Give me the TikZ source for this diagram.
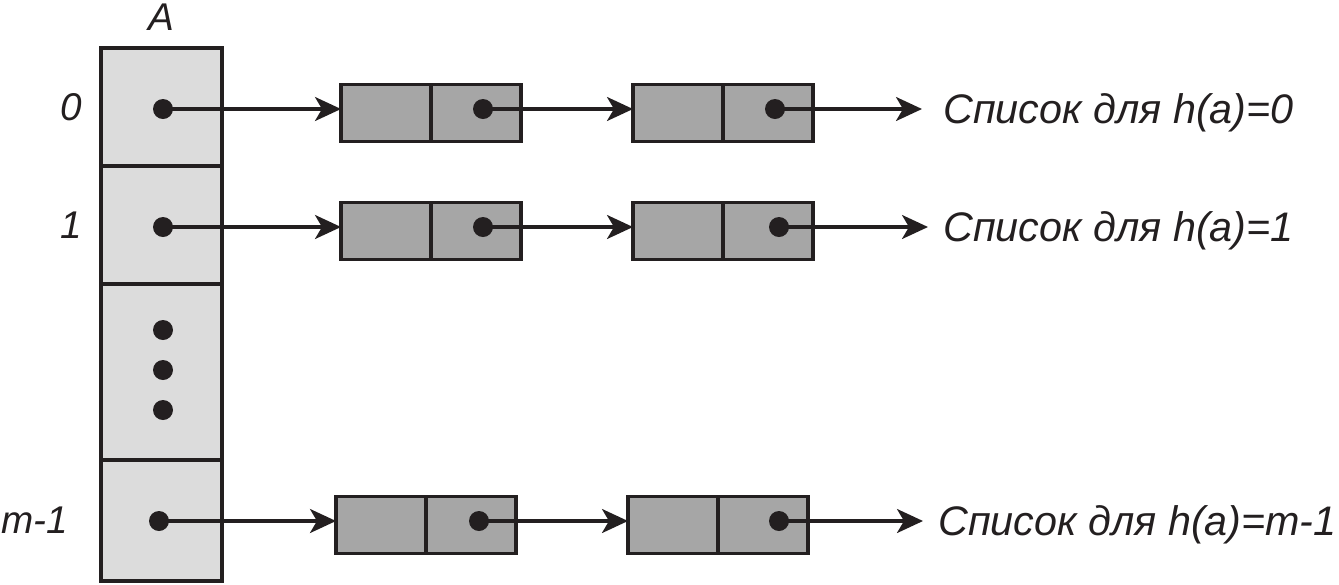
\documentclass[tikz,border=0pt]{standalone}
\usepackage{fontspec}
\setmainfont{Liberation Sans}
\usepackage{tikz}
\usetikzlibrary{positioning}
\usetikzlibrary{arrows.meta}
\usepackage{xcolor}
\definecolor{inkline}{RGB}{35,31,32}
\definecolor{arrayfill}{RGB}{220,220,220}
\definecolor{boxfill}{RGB}{166,166,166}

\begin{document}
\begin{tikzpicture}[node distance=1.8cm,
    cell/.style={draw=inkline, line width=2pt, fill=arrayfill, rectangle, outer sep=0pt, minimum width=2.42cm, minimum height=2.36cm},
    half/.style={draw=inkline, line width=2pt, fill=boxfill, rectangle, outer sep=0pt, minimum width=1.8cm, minimum height=1.14cm},
    ptrdot/.style={circle, fill=inkline, inner sep=0pt, minimum size=0.4cm},
    lbl/.style={font=\fontsize{22}{26}\selectfont\itshape, text=inkline, inner sep=0pt},
    listlbl/.style={lbl, font=\fontsize{23.5}{28}\selectfont\itshape, anchor=base west},
    ptrarrow/.style={draw=inkline, line width=1.8pt, -{Stealth[length=0.52cm, width=0.48cm, inset=0.14cm]}}]
    \useasboundingbox (0,0) rectangle (26.78,-11.68);

    % Array A
    \node (c0) [cell] at (3.23,-2.14) {};
    \node (c1) [cell, below of=c0, node distance=2.36cm] {};
    \node (cdots) [cell, below of=c1, node distance=2.94cm, minimum height=3.52cm] {};
    \node (cm) [cell, below of=cdots, node distance=2.97cm, minimum height=2.42cm] {};

    % Labels of the array
    \node (lA) [lbl, above of=c0] {A};
    \node (l0) [lbl, left of=c0] {0};
    \node (l1) [lbl, left of=c1] {1};
    \node (lm) [lbl, left of=cm, node distance=2.53cm] {m-1};

    % Pointers in the array
    \node (a0) [ptrdot] at (3.26,-2.18) {};
    \node (a1) [ptrdot] at (3.26,-4.54) {};
    \node (v1) [ptrdot] at (3.26,-6.60) {};
    \node (v2) [ptrdot, below of=v1, node distance=0.8cm] {};
    \node (v3) [ptrdot, below of=v2, node distance=0.8cm] {};
    \node (am) [ptrdot] at (3.18,-10.42) {};

    % List for 0
    \node (k01) [half] at (7.72,-2.26) {};
    \node (p01) [half, right of=k01] {};
    \node (k02) [half, right of=p01, node distance=4.04cm] {};
    \node (p02) [half, right of=k02] {};
    \node (b01) [ptrdot] at (9.66,-2.18) {};
    \node (b02) [ptrdot] at (15.50,-2.18) {};
    \coordinate (e0) at (18.44,-2.18);
    \node (t0) [listlbl] at (18.86,-2.46) {Список для h(a)=0};

    % List for 1
    \node (k11) [half] at (7.72,-4.62) {};
    \node (p11) [half, right of=k11] {};
    \node (k12) [half, right of=p11, node distance=4.04cm] {};
    \node (p12) [half, right of=k12] {};
    \node (b11) [ptrdot] at (9.66,-4.54) {};
    \node (b12) [ptrdot] at (15.58,-4.54) {};
    \coordinate (e1) at (18.56,-4.54);
    \node (t1) [listlbl] at (18.86,-4.82) {Список для h(a)=1};

    % List for m-1
    \node (km1) [half] at (7.62,-10.50) {};
    \node (pm1) [half, right of=km1] {};
    \node (km2) [half, right of=pm1, node distance=4.04cm] {};
    \node (pm2) [half, right of=km2] {};
    \node (bm1) [ptrdot] at (9.58,-10.42) {};
    \node (bm2) [ptrdot] at (15.58,-10.42) {};
    \coordinate (em) at (18.46,-10.42);
    \node (tm) [listlbl] at (18.76,-10.70) {Список для h(a)=m-1};

    % Arrows
    \draw[ptrarrow] (a0.center) -- (a0 -| k01.west);
    \draw[ptrarrow] (b01.center) -- (b01 -| k02.west);
    \draw[ptrarrow] (b02.center) -- (e0);
    \draw[ptrarrow] (a1.center) -- (a1 -| k11.west);
    \draw[ptrarrow] (b11.center) -- (b11 -| k12.west);
    \draw[ptrarrow] (b12.center) -- (e1);
    \draw[ptrarrow] (am.center) -- (am -| km1.west);
    \draw[ptrarrow] (bm1.center) -- (bm1 -| km2.west);
    \draw[ptrarrow] (bm2.center) -- (em);
\end{tikzpicture}
\end{document}
